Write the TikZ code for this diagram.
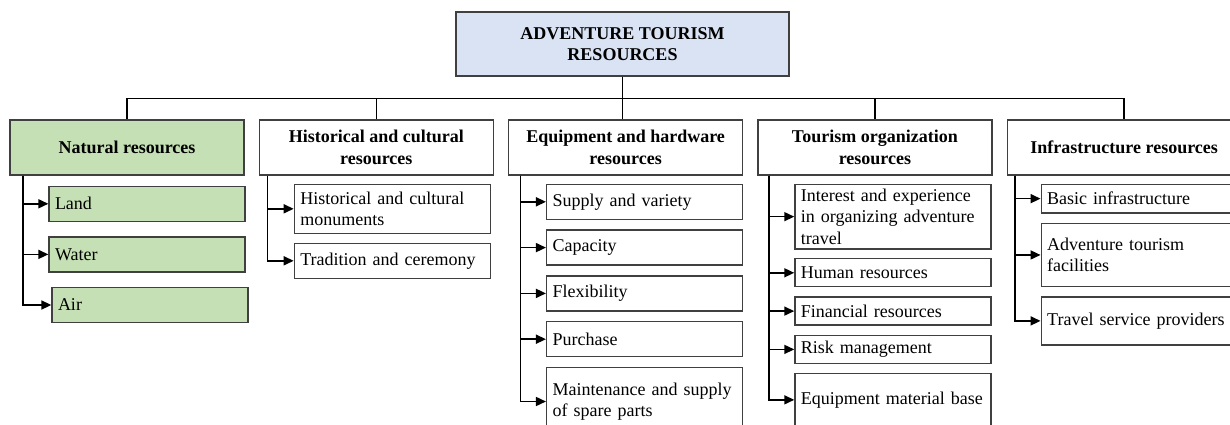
\documentclass[tikz,border=0pt]{standalone}
\usepackage{fontspec}
\setmainfont{Liberation Serif}
\usetikzlibrary{arrows.meta,positioning}
\definecolor{rootblue}{RGB}{218,227,243}
\definecolor{natgreen}{RGB}{197,224,180}
\definecolor{edgegray}{RGB}{64,64,64}
\newcommand\chartfont{\fontsize{18}{21.5}\selectfont}
\tikzset{
    rootbox/.style={draw=edgegray, line width=1.3pt, fill=rootblue, align=center,
        font=\chartfont\bfseries, minimum width=333pt, minimum height=64pt},
    groupbox/.style={draw=edgegray, line width=1.3pt, fill=white, align=center,
        font=\chartfont\bfseries, minimum width=234pt, minimum height=55pt, inner sep=2pt},
    itembox/.style={draw=edgegray, line width=1.3pt, fill=white, align=left,
        font=\chartfont, text width=184pt, inner xsep=6pt, inner ysep=3pt,
        minimum height=35pt},
    treeline/.style={line width=1.6pt},
    itemarrow/.style={-{Triangle[length=10pt,width=9pt]}, line width=1.6pt}
}

\begin{document}
\begin{tikzpicture}[x=1pt, y=-1pt]
    \path[use as bounding box] (0,0) rectangle (1230,425);
    \clip (0,0) rectangle (1230,425);

    \node[rootbox] (root) at (622.5,44) {ADVENTURE TOURISM\\RESOURCES};

    \node[groupbox, fill=natgreen] (natural) at (127,147.5) {Natural resources};
    \node[groupbox, right=14pt of natural] (historical) {Historical and cultural\\resources};
    \node[groupbox, right=14pt of historical] (equipment) {Equipment and hardware\\resources};
    \node[groupbox, right=14pt of equipment] (tourism) {Tourism organization\\resources};
    \node[groupbox, right=14pt of tourism] (infra) {Infrastructure resources};

    \node[itembox, fill=natgreen, below right=10pt and 39pt of natural.south west] (land) {Land};
    \node[itembox, fill=natgreen, below=14.3pt of land] (water) {Water};
    \node[itembox, fill=natgreen, below=14.3pt of water, xshift=3pt] (air) {Air};

    \node[itembox, minimum height=49pt, below right=8pt and 35pt of historical.south west]
        (monuments) {Historical and cultural\\monuments};
    \node[itembox, below=8.7pt of monuments] (tradition) {Tradition and ceremony};

    \node[itembox, below right=8pt and 38pt of equipment.south west] (supply) {Supply and variety};
    \node[itembox, below=9.5pt of supply] (capacity) {Capacity};
    \node[itembox, below=9.5pt of capacity] (flexibility) {Flexibility};
    \node[itembox, below=9.5pt of flexibility] (purchase) {Purchase};
    \node[itembox, minimum height=68pt, below=9.5pt of purchase]
        (maintenance) {Maintenance and supply\\of spare parts};

    \node[itembox, minimum height=64.7pt, below right=8pt and 37pt of tourism.south west]
        (interest) {Interest and experience\\in organizing adventure\\travel};
    \node[itembox, minimum height=28pt, below=8.5pt of interest] (human) {Human resources};
    \node[itembox, minimum height=28pt, below=9pt of human] (financial) {Financial resources};
    \node[itembox, minimum height=28pt, below=9pt of financial] (risk) {Risk management};
    \node[itembox, minimum height=52.3pt, below=9pt of risk] (matbase) {Equipment material base};

    \node[itembox, text width=190pt, minimum height=28.7pt,
        below right=8pt and 34pt of infra.south west] (basic) {Basic infrastructure};
    \node[itembox, text width=190pt, minimum height=63.3pt, below=9pt of basic]
        (facilities) {Adventure tourism\\facilities};
    \node[itembox, text width=190pt, minimum height=48pt, below=9pt of facilities]
        (providers) {Travel service providers};

    \draw[treeline] (root.south) -- (root.south |- equipment.north);
    \draw[treeline] (natural.north) -- ++(0,-21) -| (infra.north);
    \draw[treeline] (historical.north) -- ++(0,-21);
    \draw[treeline] (tourism.north) -- ++(0,-21);

    \coordinate[xshift=-25.5pt] (natspine) at (natural.south -| land.west);
    \coordinate[xshift=-26pt] (histspine) at (historical.south -| monuments.west);
    \coordinate[xshift=-25.5pt] (equipspine) at (equipment.south -| supply.west);
    \coordinate[xshift=-25pt] (tourspine) at (tourism.south -| interest.west);
    \coordinate[xshift=-25.5pt] (infraspine) at (infra.south -| basic.west);

    \draw[itemarrow] (natspine) |- (land);
    \draw[itemarrow] (natspine) |- (water);
    \draw[itemarrow] (natspine) |- (air);
    \draw[itemarrow] (histspine) |- (monuments);
    \draw[itemarrow] (histspine) |- (tradition);
    \draw[itemarrow] (equipspine) |- (supply);
    \draw[itemarrow] (equipspine) |- (capacity);
    \draw[itemarrow] (equipspine) |- (flexibility);
    \draw[itemarrow] (equipspine) |- (purchase);
    \draw[itemarrow] (equipspine) |- (maintenance);
    \draw[itemarrow] (tourspine) |- (interest);
    \draw[itemarrow] (tourspine) |- (human);
    \draw[itemarrow] (tourspine) |- (financial);
    \draw[itemarrow] (tourspine) |- (risk);
    \draw[itemarrow] (tourspine) |- (matbase);
    \draw[itemarrow] (infraspine) |- (basic);
    \draw[itemarrow] (infraspine) |- (facilities);
    \draw[itemarrow] (infraspine) |- (providers);
\end{tikzpicture}
\end{document}
